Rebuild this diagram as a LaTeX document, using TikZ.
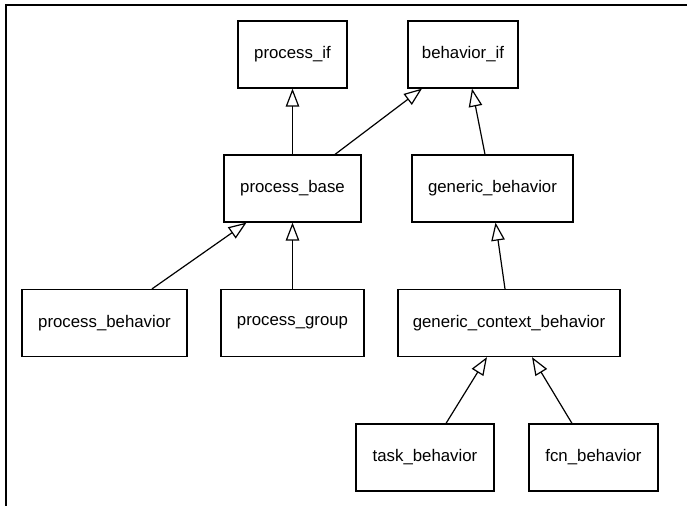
\documentclass[tikz,border=0pt]{standalone}
\usepackage{fontspec}
\setmainfont{Liberation Sans}
\usetikzlibrary{arrows.meta}
\tikzset{
  cls/.style={draw, line width=1.2bp, rectangle, inner sep=0pt, minimum height=67bp,
    font=\fontsize{16.8bp}{20bp}\selectfont},
  inh/.style={line width=1.2bp, -{Triangle[open, length=18bp, width=13.5bp]}}
}
\begin{document}
\begin{tikzpicture}[x=1bp, y=-1bp]
\useasboundingbox (0,0) rectangle (687,506);
\draw[line width=2bp] (6,506) -- (6,5.5) -- (687,5.5);
\node[cls, minimum width=109bp] (pif) at (292.5,54.5) {process\_if};
\node[cls, minimum width=110bp] (bif) at (463,54.5) {behavior\_if};
\node[cls, minimum width=137bp] (pb) at (292.5,188.5) {process\_base};
\node[cls, minimum width=161bp] (gb) at (492.5,188.5) {generic\_behavior};
\node[cls, minimum width=165bp] (pbeh) at (104.5,323) {process\_behavior};
\node[cls, minimum width=143bp] (pg) at (292.5,323) {process\_group};
\node[cls, minimum width=222bp] (gcb) at (509,323) {generic\_context\_behavior};
\node[cls, minimum width=138bp] (tb) at (425,457.5) {task\_behavior};
\node[cls, minimum width=129bp] (fb) at (593.5,457.5) {fcn\_behavior};
\draw[inh] (pb.north) -- (pif.south);
\draw[inh] ([xshift=42.5bp]pb.north) -- ([xshift=-41bp]bif.south);
\draw[inh] ([xshift=-7.5bp]gb.north) -- ([xshift=9bp]bif.south);
\draw[inh] ([xshift=47.5bp]pbeh.north) -- ([xshift=-46bp]pb.south);
\draw[inh] (pg.north) -- (pb.south);
\draw[inh] ([xshift=-4bp]gcb.north) -- ([xshift=3bp]gb.south);
\draw[inh] ([xshift=21bp]tb.north) -- ([xshift=-22bp]gcb.south);
\draw[inh] ([xshift=-21.5bp]fb.north) -- ([xshift=23bp]gcb.south);
\end{tikzpicture}
\end{document}
